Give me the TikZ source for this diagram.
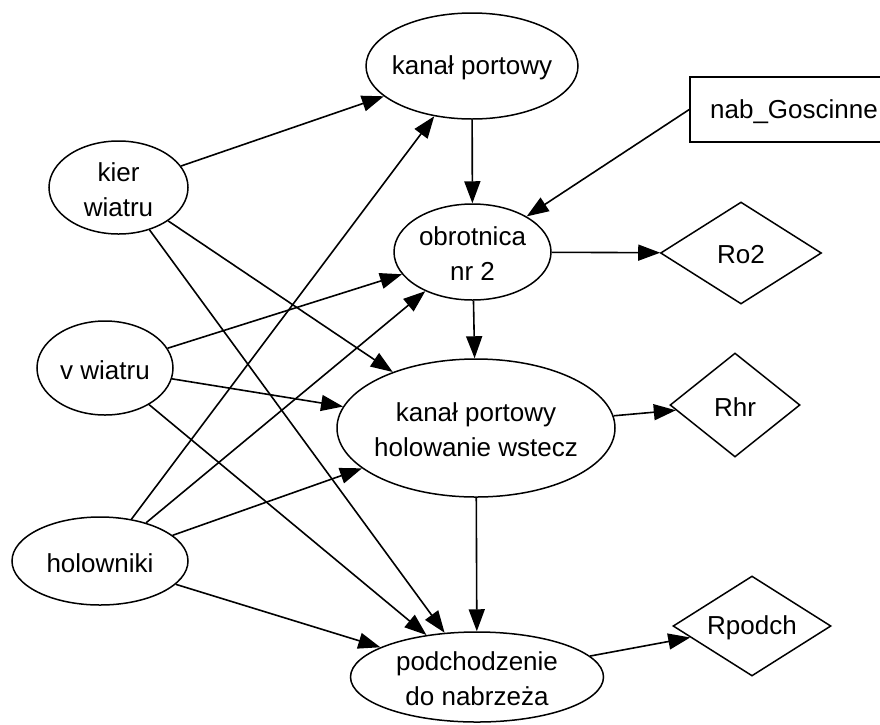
\documentclass[tikz,border=0pt]{standalone}
\usepackage{fontspec}
\setmainfont{Liberation Sans}
\usetikzlibrary{shapes.geometric,arrows.meta}
\begin{document}
\begin{tikzpicture}[x=1pt,y=-1pt,
  shp/.style={draw=black, line width=1.5pt, inner sep=0pt, fill=white},
  ell/.style={shp, ellipse},
  dia/.style={shp, diamond},
  box/.style={shp, rectangle},
  txt/.style={font=\fontsize{26}{35}\selectfont, align=center, inner sep=0pt, draw=none, fill=none, yshift=-2pt},
  arr/.style={line width=1.6pt, -{Triangle[length=22pt,width=16pt]}}]
\useasboundingbox (0,0) rectangle (880,724);
% nodes
\node[ell, minimum width=212, minimum height=106, label={[txt]center:kanał portowy}] (kp) at (472,66) {};
\node[box, minimum width=208, minimum height=65, label={[txt]center:nab\_Goscinne}] (nab) at (794,109.5) {};
\node[ell, minimum width=139, minimum height=93, label={[txt]center:{kier\\wiatru}}] (kier) at (118.5,187.5) {};
\node[ell, minimum width=157, minimum height=96, label={[txt]center:{obrotnica\\nr 2}}] (obr) at (472.5,252) {};
\node[dia, minimum width=161, minimum height=102, label={[txt]center:Ro2}] (ro) at (741,253) {};
\node[ell, minimum width=136, minimum height=94, label={[txt]center:v wiatru}] (vw) at (105,368) {};
\node[ell, minimum width=278, minimum height=138, label={[txt]center:{kanał portowy\\holowanie wstecz}}] (hol) at (476,428) {};
\node[dia, minimum width=130, minimum height=104, label={[txt]center:Rhr}] (rhr) at (735,405) {};
\node[ell, minimum width=176, minimum height=88, label={[txt]center:holowniki}] (how) at (100,561) {};
\node[ell, minimum width=253, minimum height=90, label={[txt]center:{podchodzenie\\do nabrzeża}}] (pod) at (477,677) {};
\node[dia, minimum width=158, minimum height=100, label={[txt]center:Rpodch}] (rp) at (752,626) {};
% edges
\draw[arr] (kier) -- (kp);
\draw[arr] (kier) -- (hol);
\draw[arr] (kier) -- (pod);
\draw[arr] (vw) -- (obr);
\draw[arr] (vw) -- (hol);
\draw[arr] (vw) -- (pod);
\draw[arr] (how) -- (kp);
\draw[arr] (how) -- (obr);
\draw[arr] (how) -- (hol);
\draw[arr] (how) -- (pod);
\draw[arr] (kp) -- (obr);
\draw[arr] (obr) -- (hol);
\draw[arr] (hol) -- (pod);
\draw[arr] (nab.west) -- (obr);
\draw[arr] (obr) -- (ro);
\draw[arr] (hol) -- (rhr);
\draw[arr] (pod) -- (rp);
\end{tikzpicture}
\end{document}
